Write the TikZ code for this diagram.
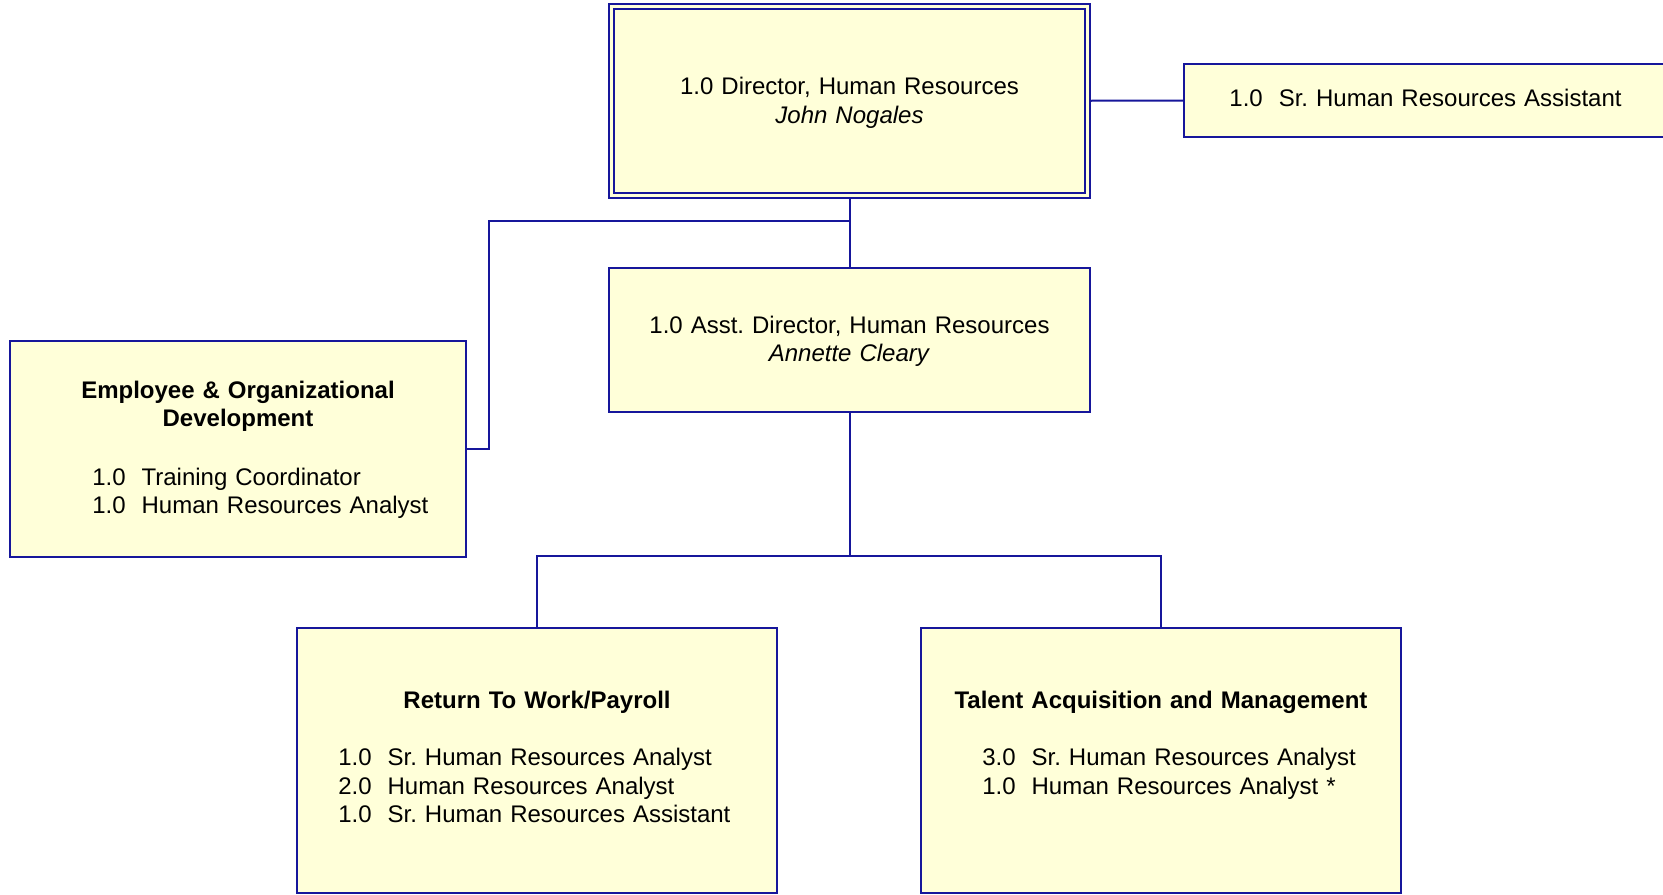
\documentclass[tikz,border=0pt]{standalone}
\usepackage{fontspec}
\setmainfont{Liberation Sans}
\frenchspacing
\usetikzlibrary{fit,backgrounds}
\definecolor{hrblue}{RGB}{22,22,155}
\definecolor{hrfill}{RGB}{255,255,217}
\tikzset{
  orgbox/.style={draw=hrblue, fill=hrfill, line width=1.5pt, inner sep=0pt, rectangle},
  headbox/.style={orgbox, double=hrfill, double distance=2.25pt},
  conn/.style={draw=hrblue, line width=1.5pt},
  boxtext/.style={inner sep=0pt, text width=340pt, align=center, anchor=base,
    font=\fontsize{18}{21.5}\selectfont},
  boxtitle/.style={boxtext, font=\fontsize{18}{21.5}\selectfont\bfseries},
  boxlist/.style={inner sep=0pt, text width=300pt, align=left, anchor=base west,
    font=\fontsize{18}{21.5}\selectfont},
}
\begin{document}
\begin{tikzpicture}[x=0.75pt, y=-0.75pt]
  \useasboundingbox (0,0) rectangle (1663,894);
  \begin{scope}[on background layer]
    \fill[white] (0,0) rectangle (1663,894);
  \end{scope}

  % boxes
  \node[headbox, fit={(611.5,6.5) (1087.5,195)}] (dir) {};
  \node[orgbox, fit={(1184,64) (1668,137)}] (sra) {};
  \node[orgbox, fit={(609,268) (1090,412)}] (asst) {};
  \node[orgbox, fit={(10,341) (466,557)}] (eod) {};
  \node[orgbox, fit={(297,628) (777,893)}] (rtw) {};
  \node[orgbox, fit={(921,628) (1401,893)}] (tam) {};

  % box contents
  \node[boxtext] (dirtxt) at (849.5,94.5) {1.0 Director, Human Resources\\\textit{John Nogales}};
  \node[boxtext] (sratxt) at (1425.5,106) {1.0~~Sr. Human Resources Assistant};
  \node[boxtext] (assttxt) at (849.5,333) {1.0 Asst. Director, Human Resources\\\textit{Annette Cleary}};
  \node[boxtitle] (eodttl) at (238,398) {Employee \& Organizational\\Development};
  \node[boxlist] (eodlst) at (92,485) {1.0~~Training Coordinator\\1.0~~Human Resources Analyst};
  \node[boxtitle] (rtwttl) at (537,708.5) {Return To Work/Payroll};
  \node[boxlist] (rtwlst) at (338,765.5) {1.0~~Sr. Human Resources Analyst\\2.0~~Human Resources Analyst\\1.0~~Sr. Human Resources Assistant};
  \node[boxtitle] (tamttl) at (1161,708.5) {Talent Acquisition and Management};
  \node[boxlist] (tamlst) at (982,765.5) {3.0~~Sr. Human Resources Analyst\\1.0~~Human Resources Analyst *};

  % reporting lines
  \coordinate (split) at (849.5,221);
  \coordinate (eodrail) at (489,221);
  \coordinate (bus) at (849.5,556);
  \begin{scope}[on background layer]
    \draw[conn] (dir.east) -- (sra.west);
    \draw[conn] (dir.south) -- (asst.north);
    \draw[conn] (split) -- (eodrail) |- (eod.east);
    \draw[conn] (asst.south) -- (bus);
    \draw[conn] (bus) -| (rtw.north);
    \draw[conn] (bus) -| (tam.north);
  \end{scope}
\end{tikzpicture}
\end{document}
